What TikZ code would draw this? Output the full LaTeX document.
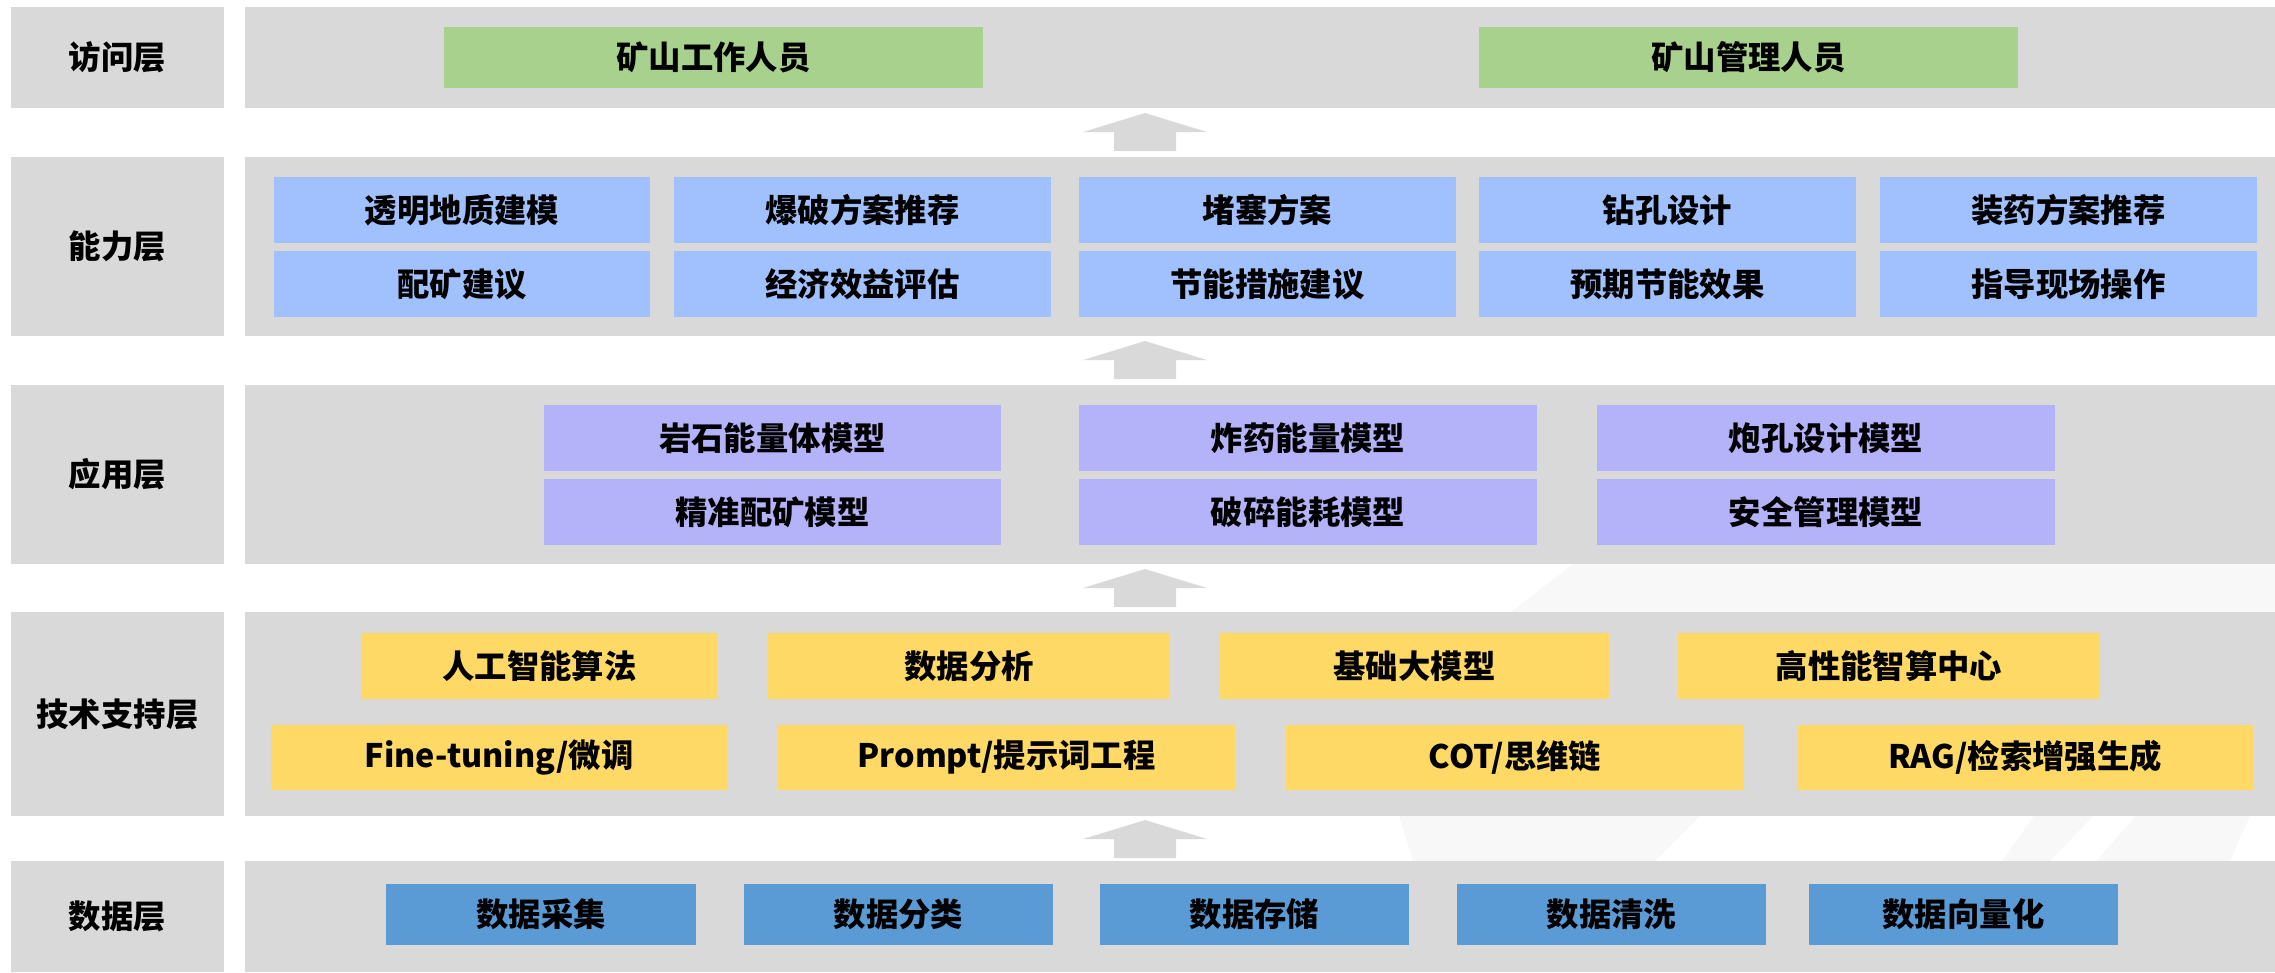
\documentclass[tikz,border=0pt]{standalone}
\usepackage{fontspec}
\setmainfont{Noto Sans CJK SC}
\definecolor{panelgray}{HTML}{D9D9D9}
\definecolor{greenbox}{HTML}{A9D18E}
\definecolor{abilbox}{HTML}{A0C1FE}
\definecolor{appbox}{HTML}{B4B3FA}
\definecolor{techbox}{HTML}{FFD966}
\definecolor{databox}{HTML}{5B9BD5}
\definecolor{wmark}{HTML}{F8F8F8}
\newcommand\lblfont{\fontsize{9.2pt}{11pt}\selectfont\bfseries}
\tikzset{
  blockbase/.style={draw=none, inner sep=0pt, outer sep=0pt, font=\lblfont, text=black},
  panel/.style={blockbase, fill=panelgray},
  accessbox/.style={blockbase, fill=greenbox},
  abilitybox/.style={blockbase, fill=abilbox},
  appmodel/.style={blockbase, fill=appbox},
  techitem/.style={blockbase, fill=techbox},
  dataitem/.style={blockbase, fill=databox},
  layerarrow/.style={fill=panelgray, draw=none},
}
% name, x1, y1, x2, y2, style, text
\newcommand\drawblk[7]{%
  \node[#6, minimum width={(#4-#2)*0.01cm}, minimum height={(#5-#3)*0.01cm}]
    (#1) at ({(#2+#4)/2},{(#3+#5)/2}) {#7};}
% up arrow: tip y
\newcommand\uparr[1]{%
  \fill[layerarrow] (1145,#1) -- (1207,#1+19) -- (1176,#1+19) -- (1176,#1+38)
    -- (1114,#1+38) -- (1114,#1+19) -- (1083,#1+19) -- cycle;}
\begin{document}
\begin{tikzpicture}[x=0.01cm, y=-0.01cm]
\useasboundingbox (0,0) rectangle (2275,972);
% faint watermark
\fill[wmark] (1573,564) -- (2275,564) -- (2275,612) -- (1511,612) -- cycle;
\fill[wmark] (1399,816) -- (1700,816) -- (1655,861) -- (1413,861) -- cycle;
\fill[wmark] (2034,816) -- (2093,816) -- (2050,861) -- (2002,861) -- cycle;
\fill[wmark] (2136,816) -- (2250,816) -- (2230,861) -- (2096,861) -- cycle;
% layer label boxes
\drawblk{lAccess}{11}{7}{224}{108}{panel}{访问层}
\drawblk{lAbility}{11}{157}{224}{336}{panel}{能力层}
\drawblk{lApp}{11}{385}{224}{564}{panel}{应用层}
\drawblk{lTech}{11}{612}{224}{816}{panel}{技术支持层}
\drawblk{lData}{11}{861}{224}{972}{panel}{数据层}
% layer panels
\drawblk{pAccess}{245}{7}{2275}{108}{panel}{}
\drawblk{pAbility}{245}{157}{2275}{336}{panel}{}
\drawblk{pApp}{245}{385}{2275}{564}{panel}{}
\drawblk{pTech}{245}{612}{2275}{816}{panel}{}
\drawblk{pData}{245}{861}{2275}{972}{panel}{}
% arrows
\uparr{113}
\uparr{341}
\uparr{569}
\uparr{820}
% access layer
\drawblk{ac1}{444}{27}{983}{88}{accessbox}{矿山工作人员}
\drawblk{ac2}{1479}{27}{2018}{88}{accessbox}{矿山管理人员}
% ability layer
\drawblk{ab1}{274}{177}{650}{243}{abilitybox}{透明地质建模}
\drawblk{ab2}{674}{177}{1051}{243}{abilitybox}{爆破方案推荐}
\drawblk{ab3}{1079}{177}{1456}{243}{abilitybox}{堵塞方案}
\drawblk{ab4}{1479}{177}{1856}{243}{abilitybox}{钻孔设计}
\drawblk{ab5}{1880}{177}{2257}{243}{abilitybox}{装药方案推荐}
\drawblk{ab6}{274}{251}{650}{317}{abilitybox}{配矿建议}
\drawblk{ab7}{674}{251}{1051}{317}{abilitybox}{经济效益评估}
\drawblk{ab8}{1079}{251}{1456}{317}{abilitybox}{节能措施建议}
\drawblk{ab9}{1479}{251}{1856}{317}{abilitybox}{预期节能效果}
\drawblk{ab10}{1880}{251}{2257}{317}{abilitybox}{指导现场操作}
% application layer
\drawblk{ap1}{544}{405}{1001}{471}{appmodel}{岩石能量体模型}
\drawblk{ap2}{1079}{405}{1537}{471}{appmodel}{炸药能量模型}
\drawblk{ap3}{1597}{405}{2055}{471}{appmodel}{炮孔设计模型}
\drawblk{ap4}{544}{479}{1001}{545}{appmodel}{精准配矿模型}
\drawblk{ap5}{1079}{479}{1537}{545}{appmodel}{破碎能耗模型}
\drawblk{ap6}{1597}{479}{2055}{545}{appmodel}{安全管理模型}
% technology support layer
\drawblk{t1}{361}{633}{718}{699}{techitem}{人工智能算法}
\drawblk{t2}{768}{633}{1170}{699}{techitem}{数据分析}
\drawblk{t3}{1220}{633}{1609}{699}{techitem}{基础大模型}
\drawblk{t4}{1678}{633}{2100}{699}{techitem}{高性能智算中心}
\drawblk{t5}{271}{725}{727}{790}{techitem}{Fine-tuning/微调}
\drawblk{t6}{778}{725}{1235}{790}{techitem}{Prompt/提示词工程}
\drawblk{t7}{1286}{725}{1744}{790}{techitem}{COT/思维链}
\drawblk{t8}{1797}{725}{2253}{790}{techitem}{RAG/检索增强生成}
% data layer
\drawblk{d1}{386}{884}{696}{945}{dataitem}{数据采集}
\drawblk{d2}{744}{884}{1053}{945}{dataitem}{数据分类}
\drawblk{d3}{1100}{884}{1409}{945}{dataitem}{数据存储}
\drawblk{d4}{1457}{884}{1766}{945}{dataitem}{数据清洗}
\drawblk{d5}{1809}{884}{2118}{945}{dataitem}{数据向量化}
\end{tikzpicture}
\end{document}
